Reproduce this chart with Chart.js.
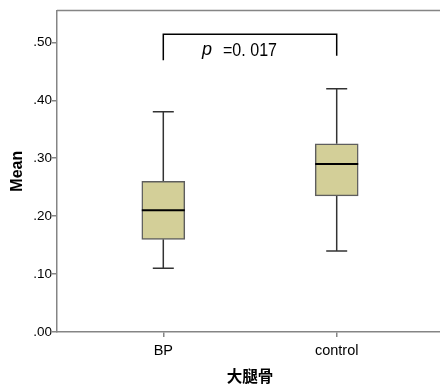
<!DOCTYPE html>
<html>
<head>
<meta charset="utf-8">
<script src="https://cdn.jsdelivr.net/npm/chart.js@4"></script>
<style>
html,body{margin:0;padding:0;background:#fff;overflow:hidden;}
#wrap{width:440px;height:384px;overflow:hidden;position:relative;}
canvas{display:block;}
</style>
</head>
<body>
<div id="wrap"><canvas id="c" width="446" height="384"></canvas></div>
<script>
// ---- data ----
const categories = ['BP', 'control'];
const whiskerLow  = [0.11, 0.14];
const q1          = [0.16, 0.235];
const median      = [0.21, 0.29];
const q3          = [0.26, 0.325];
const whiskerHigh = [0.38, 0.42];
const yTicks = [0.0, 0.1, 0.2, 0.3, 0.4, 0.5];
const yMax = 0.555;
const bracketTop = 0.514;
const bracketEnds = [0.469, 0.477];
const pLabel = 'p';
const pValueText = '=0. 017';

const FONT = "'Liberation Sans', Arial, sans-serif";
const AXIS = '#858585';

const boxPlugin = {
  id: 'boxParts',
  beforeDatasetsDraw(chart) {
    const {ctx, scales: {x, y}} = chart;
    ctx.save();
    ctx.strokeStyle = '#333';
    ctx.lineWidth = 1.5;
    categories.forEach((c, i) => {
      const cx = x.getPixelForValue(i);
      const cap = 10.5;
      [[q3[i], whiskerHigh[i]], [q1[i], whiskerLow[i]]].forEach(([a, b]) => {
        ctx.beginPath();
        ctx.moveTo(cx, y.getPixelForValue(a));
        ctx.lineTo(cx, y.getPixelForValue(b));
        ctx.moveTo(cx - cap, y.getPixelForValue(b));
        ctx.lineTo(cx + cap, y.getPixelForValue(b));
        ctx.stroke();
      });
    });
    ctx.restore();
  },
  afterDatasetsDraw(chart) {
    const {ctx, scales: {x, y}, chartArea} = chart;
    ctx.save();
    // medians
    const meta = chart.getDatasetMeta(0);
    ctx.strokeStyle = '#000';
    ctx.lineWidth = 2;
    categories.forEach((c, i) => {
      const bar = meta.data[i];
      const half = bar.width / 2;
      const py = y.getPixelForValue(median[i]);
      ctx.beginPath();
      ctx.moveTo(bar.x - half, py);
      ctx.lineTo(bar.x + half, py);
      ctx.stroke();
    });
    // top frame line
    ctx.strokeStyle = AXIS;
    ctx.lineWidth = 1.5;
    ctx.beginPath();
    ctx.moveTo(chartArea.left, chartArea.top);
    ctx.lineTo(chartArea.right, chartArea.top);
    ctx.stroke();
    // significance bracket
    const x0 = x.getPixelForValue(0), x1 = x.getPixelForValue(1);
    const yt = y.getPixelForValue(bracketTop);
    ctx.strokeStyle = '#000';
    ctx.lineWidth = 1.5;
    ctx.beginPath();
    ctx.moveTo(x0, y.getPixelForValue(bracketEnds[0]));
    ctx.lineTo(x0, yt);
    ctx.lineTo(x1, yt);
    ctx.lineTo(x1, y.getPixelForValue(bracketEnds[1]));
    ctx.stroke();
    const mid = (x0 + x1) / 2;
    ctx.fillStyle = '#000';
    ctx.textBaseline = 'alphabetic';
    ctx.textAlign = 'left';
    ctx.font = "italic 18px " + FONT;
    ctx.fillText(pLabel, mid - 48, yt + 20.5);
    ctx.font = "18px " + FONT;
    ctx.fillText(pValueText, mid - 27, yt + 21.5, 54);
    ctx.restore();
  }
};

new Chart(document.getElementById('c'), {
  type: 'bar',
  data: {
    datasets: [{
      data: categories.map((c, i) => ({x: i, y: [q1[i], q3[i]]})),
      backgroundColor: '#d3cf98',
      borderColor: '#5e5e5e',
      borderWidth: 1.5,
      borderSkipped: false,
      barThickness: 43
    }]
  },
  options: {
    responsive: false,
    animation: false,
    events: [],
    layout: {padding: {top: 10.5, right: 3, left: 0, bottom: 0}},
    plugins: {legend: {display: false}, tooltip: {enabled: false}},
    scales: {
      x: {
        type: 'linear',
        offset: false,
        min: -0.613,
        max: 1.613,
        afterBuildTicks(s) { s.ticks = categories.map((c, i) => ({value: i})); },
        afterFit(s) { s.height = 52; },
        ticks: {
          callback: (v) => categories[v],
          font: {family: FONT, size: 14.5},
          color: '#000',
          padding: 5,
          maxRotation: 0,
          autoSkip: false
        },
        grid: {drawOnChartArea: false, offset: false, tickLength: 5, color: AXIS, lineWidth: 1.5},
        border: {color: AXIS, width: 1.5},
        title: {
          display: true,
          text: '大腿骨',
          font: {family: "'Noto Sans CJK JP', sans-serif", size: 15.5, weight: 'bold', lineHeight: 1},
          color: '#000',
          padding: {top: 0, bottom: 0}
        }
      },
      y: {
        min: 0,
        max: yMax,
        afterBuildTicks(s) { s.ticks = yTicks.map(v => ({value: v})); },
        afterFit(s) { s.width = 57; },
        ticks: {
          callback: (v) => v.toFixed(2).replace(/^0/, ''),
          font: {family: FONT, size: 13.5},
          color: '#000',
          padding: 0
        },
        grid: {drawOnChartArea: false, tickLength: 5, color: AXIS, lineWidth: 1.5},
        border: {color: AXIS, width: 1.5},
        title: {
          display: true,
          text: 'Mean',
          font: {family: FONT, size: 16, weight: 'bold'},
          color: '#000',
          padding: {top: 8, bottom: 0}
        }
      }
    }
  },
  plugins: [boxPlugin]
});
</script>
</body>
</html>
